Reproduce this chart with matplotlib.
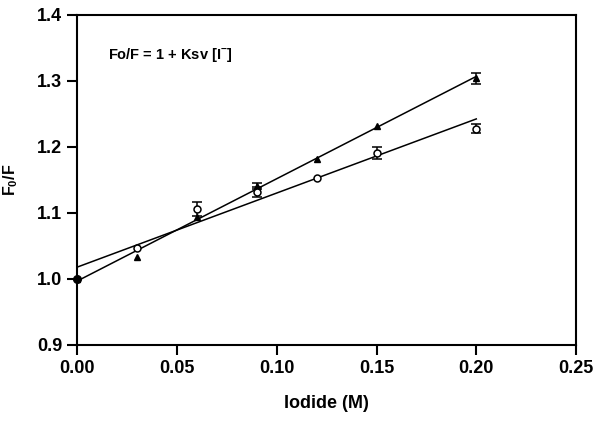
import numpy as np
import matplotlib
matplotlib.use('Agg')
import matplotlib.pyplot as plt

plt.rcParams['font.family'] = ['Liberation Sans', 'DejaVu Sans']
plt.rcParams['font.weight'] = 'bold'
plt.rcParams['mathtext.fontset'] = 'custom'
plt.rcParams['mathtext.rm'] = 'Liberation Sans:bold'
plt.rcParams['mathtext.bf'] = 'Liberation Sans:bold'

# iodide concentration (M)
iodide = [0.0, 0.03, 0.06, 0.09, 0.12, 0.15, 0.20]

# triangles
f0f_tri = [1.000, 1.034, 1.0935, 1.141, 1.182, 1.232, 1.304]
err_tri = [0.0, 0.0, 0.0, 0.004, 0.0, 0.0, 0.008]

# open circles
f0f_circ = [1.000, 1.0465, 1.106, 1.132, 1.1525, 1.191, 1.228]
err_circ = [0.0, 0.0, 0.011, 0.008, 0.0, 0.009, 0.007]

x_ticks = [0.00, 0.05, 0.10, 0.15, 0.20, 0.25]
y_ticks = [0.9, 1.0, 1.1, 1.2, 1.3, 1.4]

fig = plt.figure(figsize=(6, 4.22), dpi=100)
ax = fig.add_axes([0.129, 0.1825, 0.831, 0.782])

x = np.array(iodide)
xfit = np.array([0.0, 0.2])
for y in (f0f_tri, f0f_circ):
    slope, icpt = np.polyfit(x, y, 1)
    ax.plot(xfit, icpt + slope * xfit, color='black', lw=1.1, zorder=2)


def error_bars(y, err):
    y, err = np.array(y), np.array(err)
    m = err > 0  # only where an error bar is visible
    ax.errorbar(x[m], y[m], yerr=err[m], fmt='none', ecolor='black',
                capsize=3.5, elinewidth=1.1, capthick=1.1, zorder=3)


error_bars(f0f_tri, err_tri)
error_bars(f0f_circ, err_circ)

ax.plot(iodide, f0f_tri, '^', color='black', ms=4.5, zorder=4)
ax.plot(iodide[1:], f0f_circ[1:], 'o', mfc='white', mec='black', ms=5, mew=1.1, zorder=4)
# the origin point is drawn solid
ax.plot(iodide[0], f0f_circ[0], 'o', color='black', ms=5.5, zorder=5, clip_on=False)

ax.text(0.0153, 1.339, 'Fo/F = 1 + Ksv [I$^{-}$]', fontsize=10.5, fontweight='bold',
        va='center', ha='left')

ax.set_xlim(0, 0.25)
ax.set_ylim(0.9, 1.4)
ax.set_xticks(x_ticks)
ax.set_yticks(y_ticks)
ax.set_xticklabels(['%.2f' % t for t in x_ticks])
ax.set_yticklabels(['%.1f' % t for t in y_ticks])
ax.tick_params(direction='out', length=7, width=1.5, labelsize=13, pad=4)
for sp in ax.spines.values():
    sp.set_linewidth(1.5)

ax.set_xlabel('Iodide (M)', fontsize=13, fontweight='bold', labelpad=13)
ax.set_ylabel('F$_{0}$/F', fontsize=11.5, fontweight='bold', labelpad=12)

fig.savefig('out.png', dpi=100)
